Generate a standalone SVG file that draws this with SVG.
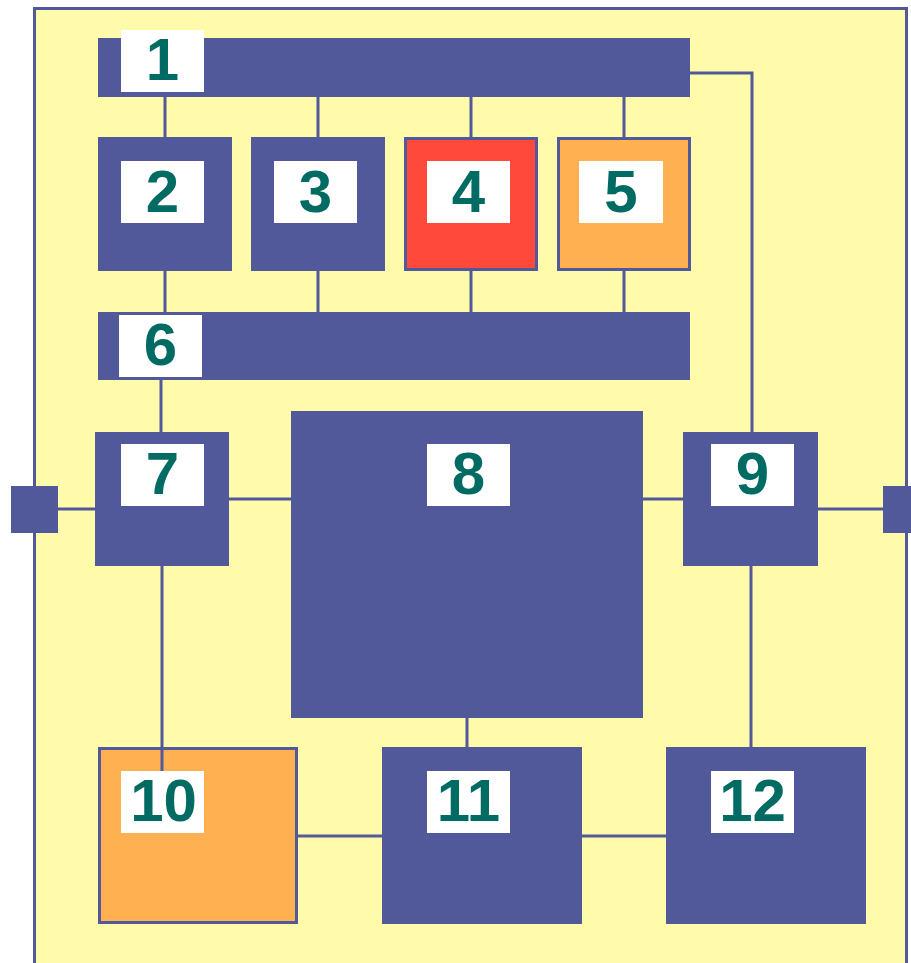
<svg xmlns="http://www.w3.org/2000/svg" width="911" height="963" viewBox="0 0 911 963">
<style>
.b{fill:#51599B}
.lbl{fill:#FFFFFF}
.t{font-family:"Liberation Sans",Arial,sans-serif;font-weight:bold;font-size:60px;fill:#006B63;text-anchor:middle}
.c{stroke:#51599B;stroke-width:3;fill:none}
.o{stroke:#51599B;stroke-width:3}
</style>
<rect x="0" y="0" width="911" height="963" fill="#FFFFFF"/>
<rect id="frame" x="34.5" y="8.5" width="872" height="970" fill="#FFFBAA" stroke="#51599B" stroke-width="3"/>
<g id="connectors">
<path class="c" d="M165 97V137M318 97V137M471 97V137M624 97V137"/>
<path class="c" d="M165 271V312M318 271V312M471 270V312M624 270V312"/>
<path class="c" d="M690 73H752V432"/>
<path class="c" d="M161 380V432"/>
<path class="c" d="M58 509H95"/>
<path class="c" d="M229 499H291"/>
<path class="c" d="M643 499H683"/>
<path class="c" d="M818 509H883"/>
<path class="c" d="M467 718V747"/>
<path class="c" d="M751 566V747"/>
<path class="c" d="M298 836H382"/>
<path class="c" d="M582 836H666"/>
</g>
<g id="port-left"><rect class="b" x="11" y="486" width="47" height="47"/></g>
<g id="port-right"><rect class="b" x="883" y="486" width="30" height="47"/></g>
<g id="n1"><rect class="b" x="98" y="38" width="592" height="59"/><rect class="lbl" x="121" y="30" width="83" height="62"/><text class="t" x="162.5" y="80">1</text></g>
<g id="n2"><rect class="b" x="98" y="137" width="134" height="134"/><rect class="lbl" x="121" y="161" width="83" height="62"/><text class="t" x="162.5" y="212">2</text></g>
<g id="n3"><rect class="b" x="251" y="137" width="134" height="134"/><rect class="lbl" x="274" y="161" width="83" height="62"/><text class="t" x="315.5" y="212">3</text></g>
<g id="n4"><rect class="o" x="405.5" y="138.5" width="131" height="131" fill="#FF4A3B"/><rect class="lbl" x="427" y="161" width="83" height="62"/><text class="t" x="468.5" y="212">4</text></g>
<g id="n5"><rect class="o" x="558.5" y="138.5" width="131" height="131" fill="#FFB152"/><rect class="lbl" x="579" y="161" width="84" height="62"/><text class="t" x="621" y="212">5</text></g>
<g id="n6"><rect class="b" x="98" y="312" width="592" height="68"/><rect class="lbl" x="119" y="315" width="83" height="62"/><text class="t" x="160.5" y="365">6</text></g>
<g id="n7"><rect class="b" x="95" y="432" width="134" height="134"/><rect class="lbl" x="121" y="444" width="83" height="62"/><text class="t" x="162.5" y="494">7</text></g>
<g id="n8"><rect class="b" x="291" y="411" width="352" height="307"/><rect class="lbl" x="427" y="444" width="83" height="62"/><text class="t" x="468.5" y="494">8</text></g>
<g id="n9"><rect class="b" x="683" y="432" width="135" height="134"/><rect class="lbl" x="711" y="444" width="83" height="62"/><text class="t" x="752.5" y="494">9</text></g>
<g id="n10"><rect class="o" x="99.5" y="748.5" width="197" height="174" fill="#FFB152"/><path class="c" d="M162 566V771"/><rect class="lbl" x="121" y="771" width="83" height="62"/><text class="t" x="163.5" y="821">10</text></g>
<g id="n11"><rect class="b" x="382" y="747" width="200" height="177"/><rect class="lbl" x="427" y="771" width="83" height="62"/><text class="t" x="468.5" y="821">11</text></g>
<g id="n12"><rect class="b" x="666" y="747" width="200" height="177"/><rect class="lbl" x="711" y="771" width="83" height="62"/><text class="t" x="752.5" y="821">12</text></g>
</svg>
